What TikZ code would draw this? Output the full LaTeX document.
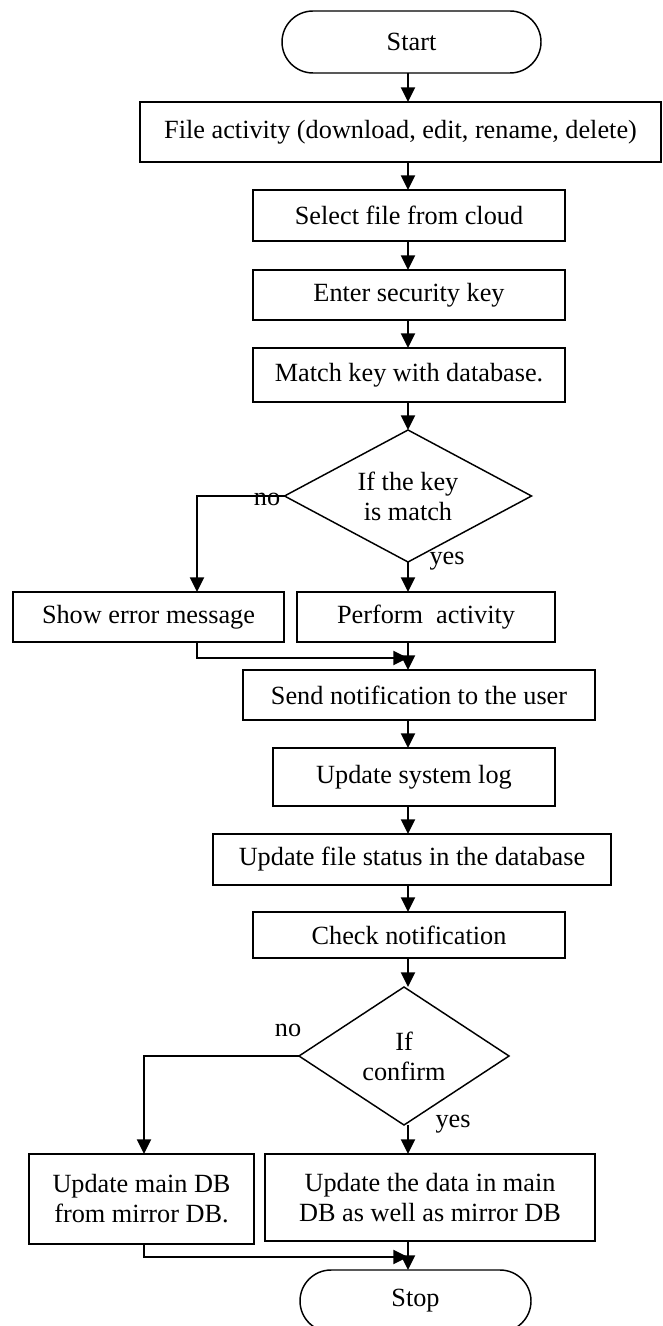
\documentclass[tikz,border=0pt]{standalone}
\usepackage{fontspec}
\setmainfont{Liberation Serif}
\usetikzlibrary{shapes.geometric,shapes.misc,arrows.meta}
\begin{document}
\begin{tikzpicture}[x=0.75pt,y=-0.75pt,
  every node/.style={font=\fontsize{19.7}{22.5}\selectfont, inner sep=0pt, outer sep=0pt},
  wh/.style 2 args={minimum width=#1*0.75pt, minimum height=#2*0.75pt},
  procbox/.style={draw, line width=1.1pt, rectangle, align=center},
  term/.style={draw, line width=1.1pt, rounded rectangle, align=center},
  decision/.style={draw, line width=1.1pt, diamond, align=center},
  arr/.style={line width=1.5pt, -{Triangle[length=11pt,width=10.5pt]}}]
\useasboundingbox (0,0) rectangle (662,1326);
\fill[white] (0,0) rectangle (662,1326);
% nodes
\node[term, wh={259}{62}] (start) at (411.5,42) {Start};
\node[procbox, wh={521}{60}] (act) at (400.5,132) {File activity (download, edit, rename, delete)};
\node[procbox, wh={312}{51}] (sel) at (409,215.5) {Select file from cloud};
\node[procbox, wh={312}{50}] (key) at (409,295) {Enter security key};
\node[procbox, wh={312}{54}] (match) at (409,375) {Match key with database.};
\node[decision, wh={247}{132}, shape aspect=1.87] (d1) at (408,496) {If the key\\is match};
\node[procbox, wh={271}{50}] (err) at (148.5,617) {Show error message};
\node[procbox, wh={258}{50}] (perf) at (426,617) {Perform\ \ activity};
\node[procbox, wh={352}{50}] (send) at (419,695) {Send notification to the user};
\node[procbox, wh={282}{58}] (log) at (414,777) {Update system log};
\node[procbox, wh={398}{51}] (stat) at (412,859.5) {Update file status in the database};
\node[procbox, wh={312}{46}] (chk) at (409,935) {Check notification};
\node[decision, wh={210}{138}, shape aspect=1.52] (d2) at (404,1056) {If\\confirm};
\node[procbox, wh={225}{90}] (mir) at (141.5,1199) {Update main DB\\from mirror DB.};
\node[procbox, wh={330}{87}] (upd) at (430,1197.5) {Update the data in main\\DB as well as mirror DB};
\node[term, wh={231}{62}] (stop) at (415.5,1301) {Stop};
% labels
\node (no1) at (267,499) {no};
\node (yes1) at (447,561) {yes};
\node (no2) at (288,1030) {no};
\node (yes2) at (453,1124) {yes};
% helper coordinates
\coordinate (col) at (408,0);
\coordinate (nx1) at (197,0);
\coordinate (m1) at (408,658);
\coordinate (nx2) at (144,0);
\coordinate (m2) at (408,1257);
% connectors
\draw[arr] (start.south -| col) -- (act.north -| col);
\draw[arr] (act.south -| col) -- (sel.north -| col);
\draw[arr] (sel.south -| col) -- (key.north -| col);
\draw[arr] (key.south -| col) -- (match.north -| col);
\draw[arr] (match.south -| col) -- (d1.north -| col);
\draw[arr] (d1.south -| col) -- (perf.north -| col);
\draw[arr] (d1.west) -| (err.north -| nx1);
\draw[arr] (err.south -| nx1) |- (m1);
\draw[arr] (perf.south -| col) -- (send.north -| col);
\draw[arr] (send.south -| col) -- (log.north -| col);
\draw[arr] (log.south -| col) -- (stat.north -| col);
\draw[arr] (stat.south -| col) -- (chk.north -| col);
\draw[arr] (chk.south -| col) -- (d2.north -| col);
\draw[arr] (d2.south -| col) -- (upd.north -| col);
\draw[arr] (d2.west) -| (mir.north -| nx2);
\draw[arr] (mir.south -| nx2) |- (m2);
\draw[arr] (upd.south -| col) -- (stop.north -| col);
\end{tikzpicture}
\end{document}
